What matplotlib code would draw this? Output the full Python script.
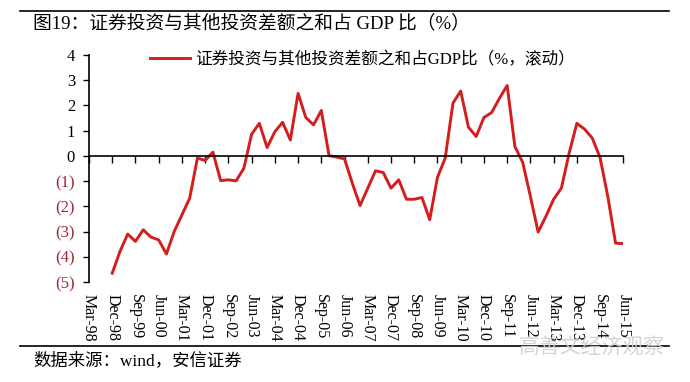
import numpy as np
import matplotlib
matplotlib.use("Agg")
import matplotlib.pyplot as plt
from matplotlib.lines import Line2D

plt.rcParams['font.family'] = ['Liberation Serif', 'Noto Sans CJK SC', 'DejaVu Sans']

# Data (quarterly, rolling, % of GDP)
months = ["Mar", "Jun", "Sep", "Dec"]
quarters = [f"{months[i % 4]}-{(98 + i // 4) % 100:02d}" for i in range(70)]  # Mar-98 .. Jun-15

ratio = [np.nan, np.nan, np.nan,
         -4.65, -3.79, -3.10, -3.39, -2.93, -3.22, -3.33, -3.89, -3.00, -2.34,
         -1.68, -0.09, -0.18, 0.15, -0.98, -0.95, -0.99, -0.49, 0.86, 1.29,
         0.33, 0.96, 1.33, 0.63, 2.48, 1.52, 1.23, 1.80, 0.01, -0.05,
         -0.12, -1.08, -1.97, -1.28, -0.59, -0.66, -1.28, -0.95, -1.72, -1.72,
         -1.65, -2.53, -0.85, -0.09, 2.09, 2.57, 1.14, 0.77, 1.52, 1.72,
         2.28, 2.79, 0.37, -0.25, -1.60, -3.02, -2.40, -1.72, -1.28, 0.10,
         1.29, 1.06, 0.70, -0.07, -1.61, -3.46, -3.48]

y_ticks = list(range(-5, 5))
series_name = "证券投资与其他投资差额之和占GDP比（%，滚动）"
title = "图19：证券投资与其他投资差额之和占 GDP 比（%）"
source = "数据来源：wind，安信证券"

x = np.arange(len(quarters))
tick_idx = x[::3]

fig = plt.figure(figsize=(6.9, 3.82), dpi=100)
ax = fig.add_axes([89 / 690, 1 - 282 / 382, (623.3 - 89) / 690, (282 - 55) / 382])

ax.plot(x, ratio, color='#D41E1E', lw=2.1, label=series_name)

ax.set_xlim(0, len(quarters) - 1)
ax.set_ylim(-5, 4)

# y axis
ax.set_yticks(y_ticks, labels=[f"({-v})" if v < 0 else str(v) for v in y_ticks])
for lab, v in zip(ax.get_yticklabels(), y_ticks):
    if v < 0:
        lab.set_color('#9B2D3A')
ax.tick_params(axis='y', direction='out', length=4, width=1, labelsize=12, pad=6)
ax.spines['left'].set_linewidth(1.2)
ax.spines['right'].set_visible(False)
ax.spines['top'].set_visible(False)

# x axis line at zero, labels at bottom
ax.spines['bottom'].set_position(('data', 0))
ax.spines['bottom'].set_linewidth(1.2)
ax.set_xticks(tick_idx)
ax.tick_params(axis='x', direction='out', length=5, width=1, labelbottom=False)

ax2 = ax.secondary_xaxis(0.0)
ax2.spines['bottom'].set_visible(False)
ax2.set_xticks(tick_idx, labels=[quarters[i] for i in tick_idx], rotation=-90)
ax2.tick_params(axis='x', length=0, pad=9, labelsize=11.5)

ax.legend(loc='center left', bbox_to_anchor=(150 / 690, 1 - 60 / 382), bbox_transform=fig.transFigure,
          frameon=False, borderpad=0, borderaxespad=0, handlelength=2.4, handletextpad=0.3,
          prop={'size': 12})

# header / footer
fig.add_artist(Line2D([20 / 690, 669 / 690], [1 - 11 / 382, 1 - 11 / 382], color='black', lw=1.2))
fig.add_artist(Line2D([20 / 690, 669 / 690], [1 - 346 / 382, 1 - 346 / 382], color='black', lw=1.2))
fig.text(33 / 690, 1 - 23 / 382, title, fontsize=13.5, va='center', ha='left')
fig.text(33 / 690, 1 - 361 / 382, source, fontsize=12.5, va='center', ha='left')
fig.text(665 / 690, 1 - 349 / 382, "高善文经济观察", fontsize=15, va='center', ha='right',
         color='#CFCFCF', alpha=0.9)

fig.savefig("out.png", dpi=100)
